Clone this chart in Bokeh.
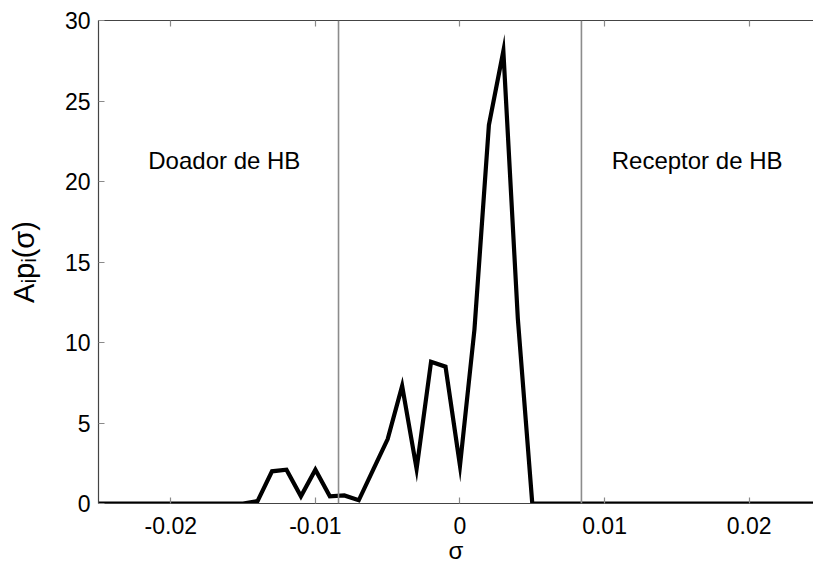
from bokeh.plotting import figure
from bokeh.models import Range1d, LinearAxis, FixedTicker, Span, Label
from bokeh.embed import file_html
from bokeh.resources import INLINE

# --- data -------------------------------------------------------------
sigma = [-0.025, -0.024, -0.023, -0.022, -0.021, -0.020, -0.019, -0.018, -0.017,
         -0.016, -0.015, -0.014, -0.013, -0.012, -0.011, -0.010, -0.009, -0.008,
         -0.007, -0.006, -0.005, -0.004, -0.003, -0.002, -0.001, 0.000, 0.001,
         0.002, 0.003, 0.004, 0.005, 0.006, 0.007, 0.008, 0.009, 0.010, 0.011,
         0.012, 0.013, 0.014, 0.015, 0.016, 0.017, 0.018, 0.019, 0.020, 0.021,
         0.022, 0.023, 0.024, 0.025]
area_profile = [0, 0, 0, 0, 0, 0, 0, 0, 0,
                0, 0, 0.15, 2.0, 2.1, 0.45, 2.1, 0.45, 0.5,
                0.2, 2.1, 4.0, 7.3, 2.15, 8.8, 8.5, 2.35, 10.8,
                23.5, 28.1, 11.5, 0, 0, 0, 0, 0, 0, 0,
                0, 0, 0, 0, 0, 0, 0, 0, 0, 0,
                0, 0, 0, 0]
hb_cutoffs = [-0.0084, 0.0084]
region_labels = ["Doador de HB", "Receptor de HB"]
region_x = [-0.0163, 0.0164]
region_y = 21.3
x_ticks = [-0.02, -0.01, 0.0, 0.01, 0.02]
x_tick_labels = ["-0.02", "-0.01", "0", "0.01", "0.02"]
y_ticks = [0, 5, 10, 15, 20, 25, 30]
x_title = "σ"
y_title = "Aᵢpᵢ(σ)"

FONT = "Liberation Sans"
AXIS_COL = "#444444"
TICK_COL = "#8a8a8a"

p = figure(width=813, height=569, output_backend="svg", toolbar_location=None,
           x_range=Range1d(-0.025, 0.02445), y_range=Range1d(0, 30),
           min_border_left=98, min_border_right=0, min_border_top=20,
           min_border_bottom=66, x_axis_type=None, y_axis_type=None)
p.outline_line_color = None
p.xgrid.visible = False
p.ygrid.visible = False
p.background_fill_color = "white"
p.border_fill_color = "white"

def style_axis(ax, show_labels=True, standoff=8):
    ax.axis_line_color = AXIS_COL
    ax.axis_line_width = 1.2
    ax.major_tick_line_color = TICK_COL
    ax.major_tick_line_width = 1.2
    ax.major_tick_in = 6
    ax.major_tick_out = 0
    ax.minor_tick_line_color = None
    ax.major_label_text_font = FONT
    ax.major_label_text_color = "black"
    ax.axis_label_text_font = FONT
    ax.axis_label_text_font_style = "normal"
    ax.axis_label_text_color = "black"
    if show_labels:
        ax.major_label_text_font_size = "23px"
        ax.major_label_standoff = standoff
    else:
        ax.major_label_text_font_size = "0px"
        ax.major_label_standoff = 0
        ax.major_label_text_alpha = 0

xb = LinearAxis(ticker=FixedTicker(ticks=x_ticks),
                major_label_overrides={t: l for t, l in zip(x_ticks, x_tick_labels)})
style_axis(xb, True, 13)
xb.axis_label = x_title
xb.axis_label_text_font_size = "24px"
xb.axis_label_standoff = 0
p.add_layout(xb, "below")

xt = LinearAxis(ticker=FixedTicker(ticks=x_ticks))
style_axis(xt, False)
p.add_layout(xt, "above")

yl = LinearAxis(ticker=FixedTicker(ticks=y_ticks))
style_axis(yl, True, 8)
yl.axis_label = y_title
yl.axis_label_text_font_size = "29px"
yl.axis_label_standoff = 22
p.add_layout(yl, "left")

for loc in hb_cutoffs:
    p.add_layout(Span(location=loc, dimension="height", line_color="#8c8c8c",
                      line_width=1.6))

p.line(sigma, area_profile, line_color="black", line_width=4.2, line_join="miter")

for txt, xx in zip(region_labels, region_x):
    p.add_layout(Label(x=xx, y=region_y, text=txt, text_align="center",
                       text_baseline="alphabetic", text_font=FONT,
                       text_font_size="24px", text_color="black"))

open("out.html", "w").write(file_html(p, INLINE))
